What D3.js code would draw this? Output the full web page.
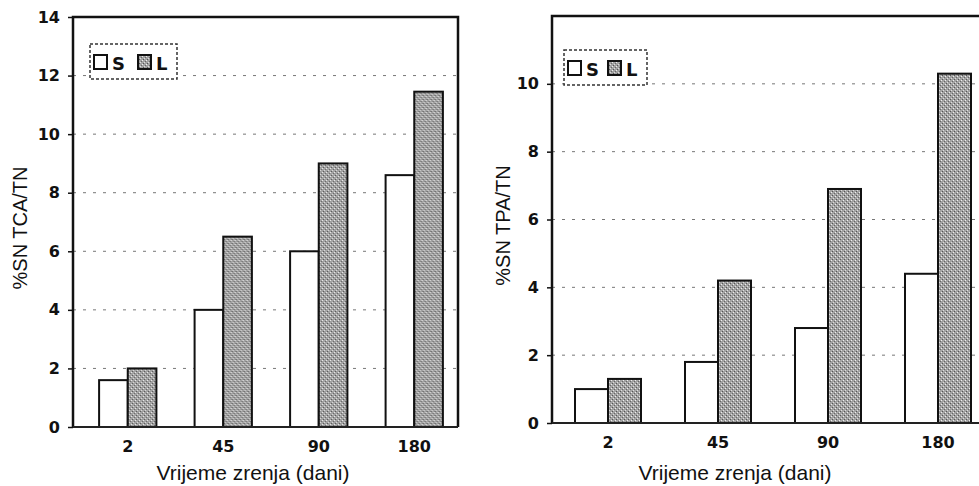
<!DOCTYPE html>
<html lang="hr">
<head>
<meta charset="UTF-8" />
<title>Vrijeme zrenja</title>
<script src="https://d3js.org/d3.v7.min.js"></script>
<style>
  body { margin: 0; background: #fff; }
  svg { display: block; font-family: "Liberation Sans", Arial, sans-serif; }
</style>
</head>
<body>
<div class="canvas"></div>
<script>
// podaci
const kategorije = ["2", "45", "90", "180"];
const serije = ["S", "L"];
const tcaS = [1.6, 4.0, 6.0, 8.6];
const tcaL = [2.0, 6.5, 9.0, 11.45];
const tpaS = [1.0, 1.8, 2.8, 4.4];
const tpaL = [1.3, 4.2, 6.9, 10.3];
const tcaTicks = [0, 2, 4, 6, 8, 10, 12, 14];
const tpaTicks = [0, 2, 4, 6, 8, 10];

const W = 979, H = 486;
const svg = d3.select(".canvas").append("svg").attr("width", W).attr("height", H);

// uzorak za sive stupce (tockasti raster)
const defs = svg.append("defs");
const pat = defs.append("pattern").attr("id", "stip")
  .attr("width", 4).attr("height", 4).attr("patternUnits", "userSpaceOnUse");
pat.append("rect").attr("width", 4).attr("height", 4).attr("fill", "#a2a2a2");
pat.append("rect").attr("x", 0).attr("y", 0).attr("width", 1).attr("height", 1).attr("fill", "#eee");
pat.append("rect").attr("x", 2).attr("y", 2).attr("width", 1).attr("height", 1).attr("fill", "#ddd");
pat.append("rect").attr("x", 1).attr("y", 3).attr("width", 1).attr("height", 1).attr("fill", "#555");
pat.append("rect").attr("x", 3).attr("y", 1).attr("width", 1).attr("height", 1).attr("fill", "#666");

const tickFont = "'DejaVu Sans', sans-serif";

function panel(cfg) {
  const g = svg.append("g");
  const y = d3.scaleLinear().domain([0, cfg.yMax]).range([cfg.bottom, cfg.top]);
  const x0 = d3.scaleBand().domain(kategorije).range(cfg.xRange)
    .paddingInner(0.4).paddingOuter(0.2);
  const x1 = d3.scaleBand().domain(serije).range([0, x0.bandwidth()]);

  // mreza
  g.append("g").selectAll("line").data(cfg.ticks.filter(t => t > 0 && t < cfg.yMax))
    .join("line")
    .attr("x1", cfg.frameLeft).attr("x2", cfg.frameRight)
    .attr("y1", d => y(d)).attr("y2", d => y(d))
    .attr("stroke", "#777").attr("stroke-width", 1).attr("stroke-dasharray", "3,7");

  // stupci
  const data = kategorije.map((k, i) => ({ k, S: cfg.s[i], L: cfg.l[i] }));
  g.append("g").selectAll("g").data(data).join("g")
    .attr("transform", d => `translate(${x0(d.k)},0)`)
    .selectAll("rect")
    .data(d => serije.map(s => ({ s, v: d[s] })))
    .join("rect")
    .attr("x", d => x1(d.s))
    .attr("y", d => y(d.v))
    .attr("width", x1.bandwidth())
    .attr("height", d => y(0) - y(d.v))
    .attr("fill", d => d.s === "S" ? "#fff" : "url(#stip)")
    .attr("stroke", "#111").attr("stroke-width", 2);

  // okvir
  g.append("path")
    .attr("d", `M${cfg.frameLeft},${cfg.bottom}V${cfg.top}H${cfg.frameRight}V${cfg.bottom}`)
    .attr("fill", "none").attr("stroke", "#111").attr("stroke-width", 2.5);
  g.append("line")
    .attr("x1", cfg.frameLeft).attr("x2", cfg.frameRight)
    .attr("y1", cfg.bottom).attr("y2", cfg.bottom)
    .attr("stroke", "#222").attr("stroke-width", 2);

  // osi
  const ay = g.append("g").attr("transform", `translate(${cfg.frameLeft},0)`)
    .call(d3.axisLeft(y).tickValues(cfg.ticks).tickFormat(d3.format("d"))
      .tickSize(5).tickPadding(8));
  ay.select(".domain").remove();
  ay.selectAll(".tick line").attr("stroke", "#111").attr("stroke-width", 1.5);

  const ax = g.append("g").attr("transform", `translate(0,${cfg.bottom})`)
    .call(d3.axisBottom(x0).tickSize(0).tickPadding(14));
  ax.select(".domain").remove();

  g.selectAll(".tick text")
    .attr("font-family", tickFont).attr("font-weight", "bold")
    .attr("font-size", 16).attr("fill", "#111");

  // naslovi osi
  g.append("text")
    .attr("transform", `translate(${cfg.yTitleX},${(cfg.top + cfg.bottom) / 2 + 6}) rotate(-90)`)
    .attr("text-anchor", "middle").attr("font-size", 20).attr("fill", "#111")
    .text(cfg.yTitle);
  g.append("text")
    .attr("x", cfg.xTitleX).attr("y", 480)
    .attr("text-anchor", "middle").attr("font-size", 21).attr("fill", "#111")
    .text("Vrijeme zrenja (dani)");

  // legenda
  const lg = g.append("g").attr("transform", `translate(${cfg.legend[0]},${cfg.legend[1]})`);
  lg.append("rect").attr("width", cfg.legend[2]).attr("height", 35)
    .attr("fill", "#fff").attr("stroke", "#333").attr("stroke-width", 1.5)
    .attr("stroke-dasharray", "3,2");
  const step = cfg.legend[3];
  serije.forEach((s, i) => {
    lg.append("rect").attr("x", 4 + i * step).attr("y", 11).attr("width", 13).attr("height", 14)
      .attr("fill", s === "S" ? "#fff" : "url(#stip)")
      .attr("stroke", "#111").attr("stroke-width", 2);
    lg.append("text").attr("x", 22 + i * step).attr("y", 25.5)
      .attr("font-family", tickFont)
      .attr("font-size", 18).attr("font-weight", "bold").attr("fill", "#111")
      .text(s);
  });
}

panel({
  s: tcaS, l: tcaL, ticks: tcaTicks, yMax: 14,
  top: 17, bottom: 427, xRange: [80, 462], frameLeft: 73, frameRight: 458,
  yTitle: "%SN TCA/TN", yTitleX: 27, xTitleX: 253,
  legend: [90, 44, 87, 44]
});

panel({
  s: tpaS, l: tpaL, ticks: tpaTicks, yMax: 12,
  top: 16, bottom: 423, xRange: [553, 993], frameLeft: 552, frameRight: 1000,
  yTitle: "%SN TPA/TN", yTitleX: 510, xTitleX: 735,
  legend: [564, 50, 83, 40]
});
</script>
</body>
</html>
